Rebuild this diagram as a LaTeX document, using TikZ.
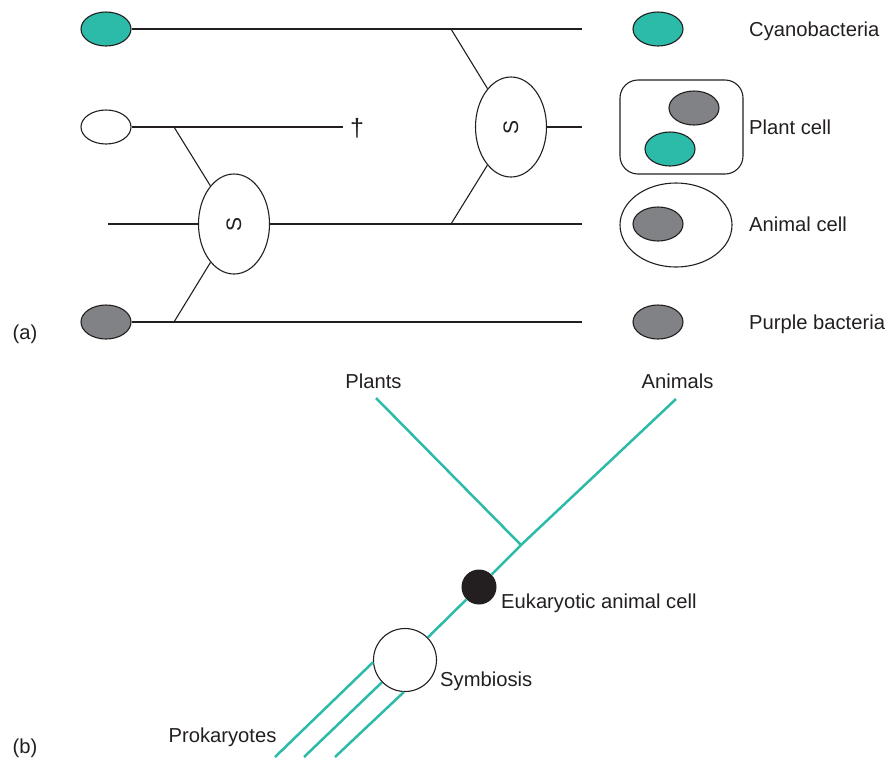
\documentclass[tikz,border=0pt]{standalone}
\usepackage{fontspec}
\setmainfont{Liberation Sans}
\usetikzlibrary{shapes.geometric}
\definecolor{tealc}{HTML}{2BBBA8}
\definecolor{greyc}{HTML}{808285}
\definecolor{txt}{HTML}{231F20}
\begin{document}
\begin{tikzpicture}[x=1pt,y=-1pt,
 cell/.style={ellipse,draw=txt,line width=1.1pt,minimum width=50pt,minimum height=34pt,inner sep=0},
 sbox/.style={ellipse,draw=txt,line width=1.1pt,fill=white,minimum width=71pt,minimum height=100pt,inner sep=0,text=txt,font=\fontsize{21}{21}\selectfont},
 ln/.style={draw=txt,line width=1.1pt},
 tl/.style={draw=tealc,line width=2.5pt},
 lab/.style={inner sep=0,text=txt,font=\fontsize{20.2}{21}\selectfont,text height=14.5pt,text depth=0pt},
 wlab/.style={lab,anchor=west}]
\useasboundingbox (0,0) rectangle (893,761);
% ---- (a) left cells
\node[cell,fill=tealc] (c1) at (106,29) {};
\node[cell,fill=white] (w1) at (106,127) {};
\node[cell,fill=greyc] (p1) at (106,322) {};
\node[sbox] (s1) at (234,224) {\rotatebox{90}{S}};
\node[sbox] (s2) at (511,127) {\rotatebox{90}{S}};
\coordinate (e1) at (582,29);
\coordinate (e2) at (343,127);
\coordinate (a0) at (108,224);
\coordinate (e3) at (582,224);
\coordinate (e4) at (582,322);
\coordinate (e5) at (582,127);
\coordinate (j1) at (174,127);
\coordinate (j2) at (174,322);
\coordinate (j3) at (451,29);
\coordinate (j4) at (451,224);
\draw[ln] (c1.east) -- (e1);
\draw[ln] (w1.east) -- (e2);
\draw[ln] (a0) -- (s1.west);
\draw[ln] (s1.east) -- (e3);
\draw[ln] (p1.east) -- (e4);
\draw[ln] (s2.east) -- (e5);
\draw[ln] (j1) -- (s1);
\draw[ln] (j2) -- (s1);
\draw[ln] (j3) -- (s2);
\draw[ln] (j4) -- (s2);
\node[inner sep=0,text=txt,font=\fontsize{25}{25}\selectfont] (dag) at (357,128) {†};
% ---- (a) right cells
\node[cell,fill=tealc] (c2) at (658,29) {};
\node[draw=txt,line width=1.1pt,rounded corners=18pt,minimum width=123pt,minimum height=94pt,inner sep=0] (plant) at (681.5,127) {};
\node[cell,fill=greyc] (pg) at (694,108) {};
\node[cell,fill=tealc] (pt) at (670,149) {};
\node[ellipse,draw=txt,line width=1.1pt,minimum width=112pt,minimum height=84pt,inner sep=0] (anim) at (676,225) {};
\node[cell,fill=greyc] (ag) at (658,224) {};
\node[cell,fill=greyc] (p2) at (658,322) {};
\node[wlab] (l1) at (749,29) {Cyanobacteria};
\node[wlab] (l2) at (749,127) {Plant cell};
\node[wlab] (l3) at (749,224) {Animal cell};
\node[wlab] (l4) at (749,322) {Purple bacteria};
\node[lab] (la) at (25,332) {(a)};
% ---- (b)
\coordinate (pl) at (376,398);
\coordinate (an) at (676,399);
\coordinate (jn) at (521,545);
\coordinate (q1) at (275,757);
\coordinate (q2) at (304,757);
\coordinate (q3) at (335,757);
\node[circle,fill=txt,minimum size=35pt,inner sep=0] (bk) at (479,587) {};
\node[circle,draw=txt,line width=1.1pt,fill=white,minimum size=63pt,inner sep=0] (sy) at (405,660) {};
\draw[tl] (pl) -- (jn);
\draw[tl] (an) -- (jn) -- (bk);
\draw[tl] (bk) -- (sy);
\draw[tl] (q1) -- (sy.184);
\draw[tl] (q2) -- (sy.224);
\draw[tl] (q3) -- (sy.268);
\node[lab] (lp) at (373.5,381) {Plants};
\node[lab] (lan) at (677.5,381) {Animals};
\node[lab] (lpr) at (222.5,735) {Prokaryotes};
\node[wlab] (le) at (501,601) {Eukaryotic animal cell};
\node[wlab] (ls) at (440,679) {Symbiosis};
\node[lab] (lb) at (25,746) {(b)};
\end{tikzpicture}
\end{document}
